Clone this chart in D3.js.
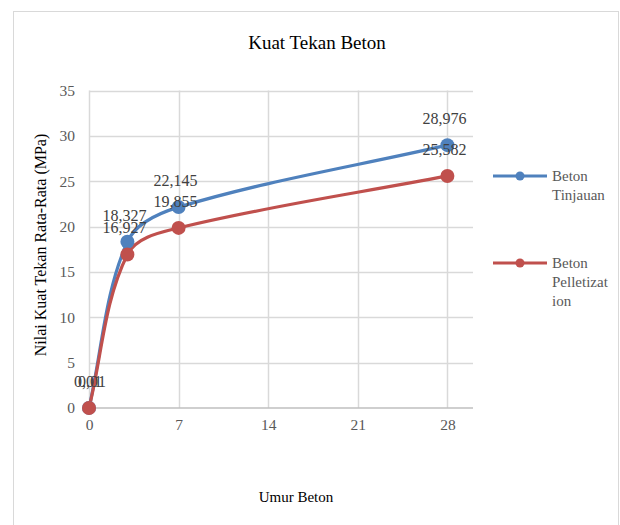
<!DOCTYPE html>
<html><head><meta charset="utf-8">
<script src="https://cdn.jsdelivr.net/npm/d3@7"></script>
<style>body{margin:0;background:#fff}svg{display:block}</style>
</head><body>
<script>
const days = [0, 3, 7, 28];
const seriesNames = ["Beton Tinjauan", "Beton Pelletization"];
const tinjauan = [0.01, 18.327, 22.145, 28.976];
const pelletization = [0, 16.927, 19.855, 25.582];
const labelsTinjauan = ["0,01", "18,327", "22,145", "28,976"];
const labelsPelletization = ["0,01", "16,927", "19,855", "25,582"];
const xTicks = [0, 7, 14, 21, 28];
const yTicks = [0, 5, 10, 15, 20, 25, 30, 35];
const legendLines = [["Beton", "Tinjauan"], ["Beton", "Pelletizat", "ion"]];
const colors = ["#4F81BD", "#C0504D"];

const W = 620, H = 525;
const FF = "'Liberation Serif','Times New Roman',serif";
const svg = d3.select("body").append("svg").attr("width", W).attr("height", H)
  .style("font-family", FF);

svg.append("rect").attr("x", 13.5).attr("y", 11.5).attr("width", 605).attr("height", 540)
  .attr("fill", "#fff").attr("stroke", "#D9D9D9").attr("stroke-width", 1);

const x = d3.scaleLinear().domain([0, 30]).range([89, 473]);
const y = d3.scaleLinear().domain([0, 35]).range([408, 90.5]);

// Excel-like smoothing curve factory (chord-length scaled tangents)
function excelSmooth(context) {
  let pts = [];
  return {
    areaStart() {}, areaEnd() {},
    lineStart() { pts = []; },
    point(px, py) { pts.push([+px, +py]); },
    lineEnd() {
      const n = pts.length;
      if (!n) return;
      context.moveTo(pts[0][0], pts[0][1]);
      const norm = v => { const l = Math.hypot(v[0], v[1]) || 1; return [v[0] / l, v[1] / l]; };
      const tan = [];
      for (let i = 0; i < n; i++) {
        if (i === 0) tan.push(norm([pts[1][0] - pts[0][0], pts[1][1] - pts[0][1]]));
        else if (i === n - 1) tan.push(norm([pts[i][0] - pts[i - 1][0], pts[i][1] - pts[i - 1][1]]));
        else tan.push(norm([pts[i + 1][0] - pts[i - 1][0], pts[i + 1][1] - pts[i - 1][1]]));
      }
      for (let i = 0; i < n - 1; i++) {
        const a = pts[i], b = pts[i + 1];
        const L = Math.hypot(b[0] - a[0], b[1] - a[1]) / 3;
        context.bezierCurveTo(a[0] + tan[i][0] * L, a[1] + tan[i][1] * L,
          b[0] - tan[i + 1][0] * L, b[1] - tan[i + 1][1] * L, b[0], b[1]);
      }
    }
  };
}

// grid
const g = svg.append("g");
g.selectAll(".hg").data(yTicks.filter(d => d > 0)).join("line")
  .attr("x1", x(0)).attr("x2", x(30)).attr("y1", d => Math.round(y(d)) + 0.5).attr("y2", d => Math.round(y(d)) + 0.5)
  .attr("stroke", "#D9D9D9").attr("stroke-width", 1.5);
g.selectAll(".vg").data(xTicks).join("line")
  .attr("y1", y(0)).attr("y2", y(35)).attr("x1", d => Math.round(x(d)) + 0.5).attr("x2", d => Math.round(x(d)) + 0.5)
  .attr("stroke", "#D9D9D9").attr("stroke-width", 1.5);
g.append("line").attr("x1", x(0)).attr("x2", x(30)).attr("y1", y(0)).attr("y2", y(0))
  .attr("stroke", "#BFBFBF").attr("stroke-width", 1.5);

// axes labels via d3 axes
const yAxis = svg.append("g").attr("transform", `translate(${x(0) - 14},0)`)
  .call(d3.axisLeft(y).tickValues(yTicks).tickSize(0).tickPadding(0).tickFormat(d3.format("d")));
yAxis.select(".domain").remove();
yAxis.selectAll("text").attr("font-size", 15.5).attr("fill", "#595959").attr("font-family", FF);

const xAxis = svg.append("g").attr("transform", `translate(0,${y(0) + 11})`)
  .call(d3.axisBottom(x).tickValues(xTicks).tickSize(0).tickPadding(0).tickFormat(d3.format("d")));
xAxis.select(".domain").remove();
xAxis.selectAll("text").attr("font-size", 15.5).attr("fill", "#595959").attr("font-family", FF);

// titles
svg.append("text").attr("x", 317).attr("y", 49).attr("text-anchor", "middle")
  .attr("font-size", 19).attr("fill", "#000").text("Kuat Tekan Beton");
svg.append("text").attr("x", 296).attr("y", 502).attr("text-anchor", "middle")
  .attr("font-size", 15).attr("fill", "#000").text("Umur Beton");
svg.append("text").attr("transform", "translate(46,245) rotate(-90)").attr("text-anchor", "middle")
  .attr("font-size", 16).attr("fill", "#000").text("Nilai Kuat Tekan Rata-Rata (MPa)");

// lines
const series = [tinjauan, pelletization];
const labels = [labelsTinjauan, labelsPelletization];
const line = d3.line().x(d => x(d[0])).y(d => y(d[1])).curve(excelSmooth);
series.forEach((s, i) => {
  const pts = days.map((d, j) => [d, s[j]]);
  svg.append("path").attr("d", line(pts)).attr("fill", "none")
    .attr("stroke", colors[i]).attr("stroke-width", 3.2).attr("stroke-linecap", "round");
});
series.forEach((s, i) => {
  const pts = days.map((d, j) => [d, s[j]]);
  svg.selectAll(".pt" + i).data(pts).join("circle")
    .attr("cx", d => x(d[0])).attr("cy", d => y(d[1])).attr("r", 7).attr("fill", colors[i]);
});
series.forEach((s, i) => {
  svg.selectAll(".lb" + i).data(days).join("text")
    .attr("x", (d, j) => x(d) - (j === 0 ? (i === 0 ? 1 : -3) : 3))
    .attr("y", (d, j) => y(s[j]) - 21)
    .attr("text-anchor", "middle").attr("font-size", 16).attr("fill", "#404040")
    .text((d, j) => labels[i][j]);
});

// legend
const legY = [176, 263];
legendLines.forEach((lines, i) => {
  svg.append("line").attr("x1", 493).attr("x2", 547).attr("y1", legY[i]).attr("y2", legY[i])
    .attr("stroke", colors[i]).attr("stroke-width", 3.2);
  svg.append("circle").attr("cx", 520).attr("cy", legY[i]).attr("r", 4.5).attr("fill", colors[i]);
  const t = svg.append("text").attr("x", 552).attr("y", legY[i] + 5).attr("font-size", 15).attr("fill", "#595959");
  lines.forEach((l, k) => t.append("tspan").attr("x", 552).attr("dy", k === 0 ? 0 : 19).text(l));
});
</script>
</body></html>
